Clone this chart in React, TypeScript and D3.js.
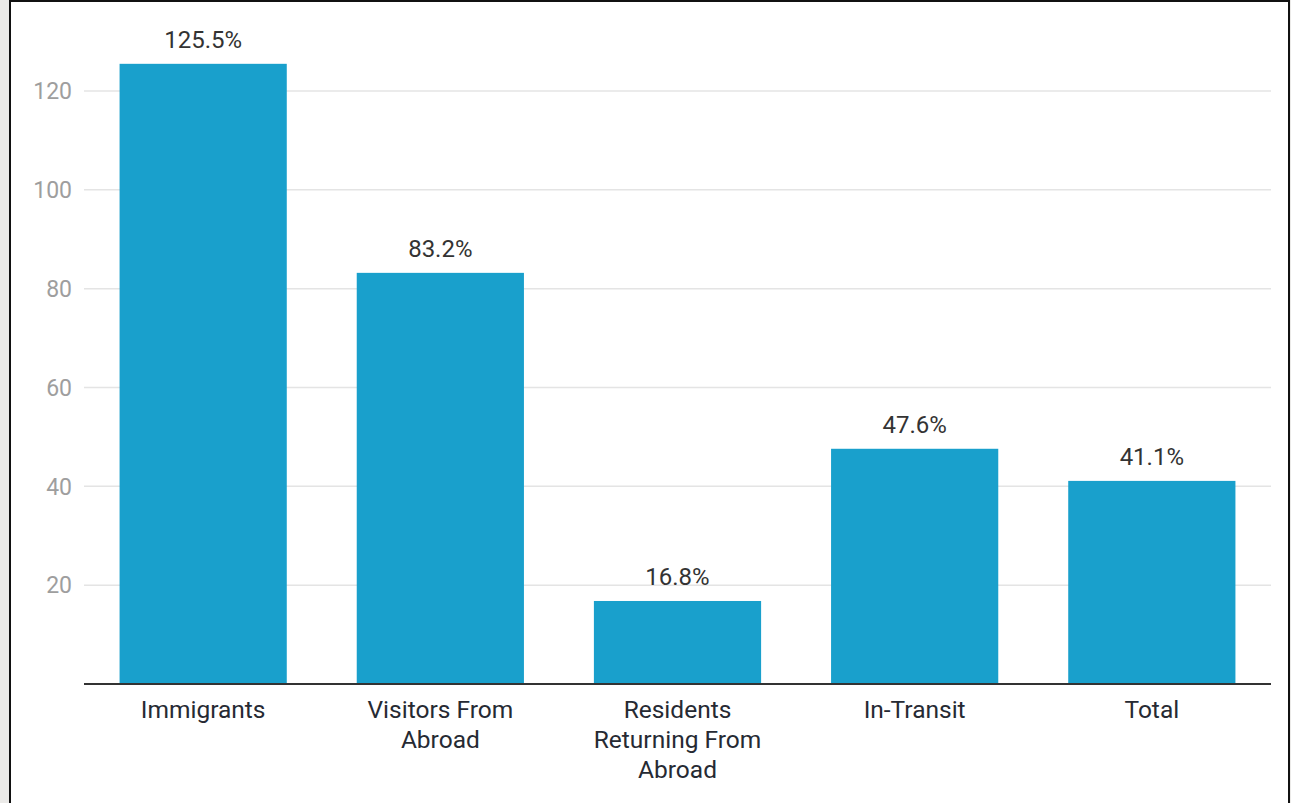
import * as d3 from "d3";
import React, { useEffect, useRef } from "react";

const categories: string[][] = [
    ["Immigrants"],
    ["Visitors From", "Abroad"],
    ["Residents", "Returning From", "Abroad"],
    ["In-Transit"],
    ["Total"],
];
const values: number[] = [125.5, 83.2, 16.8, 47.6, 41.1];
const valueLabels: string[] = ["125.5%", "83.2%", "16.8%", "47.6%", "41.1%"];
const yTicks: number[] = [20, 40, 60, 80, 100, 120];

const W = 1291;
const H = 803;

export default function App() {
    const svgRef = useRef<SVGSVGElement>(null);

    useEffect(() => {
        if (!svgRef.current) return;
        const svg = d3.select(svgRef.current);
        svg.selectAll("*").remove();

        const font = "Roboto, 'Noto Sans', sans-serif";
        const x0 = 84;
        const x1 = 1271;
        const yBase = 684;

        // frame
        svg.append("rect").attr("x", 0).attr("y", 0).attr("width", W).attr("height", H).attr("fill", "#ebeae8");
        svg.append("rect").attr("x", 10).attr("y", 1).attr("width", 1279).attr("height", H + 10)
            .attr("fill", "#fff").attr("stroke", "#111").attr("stroke-width", 2);

        const xScale = d3
            .scaleBand<number>()
            .domain(values.map((_, i) => i))
            .range([x0, x1])
            .paddingInner(0.295)
            .paddingOuter(0.15);

        const yScale = d3.scaleLinear().domain([0, 120]).range([yBase, 91]);

        const g = svg.append("g");

        g.selectAll("line.grid")
            .data(yTicks)
            .join("line")
            .attr("class", "grid")
            .attr("x1", x0)
            .attr("x2", x1)
            .attr("y1", (d) => yScale(d))
            .attr("y2", (d) => yScale(d))
            .attr("stroke", "#e4e4e4")
            .attr("stroke-width", 1.5);

        g.selectAll("text.tick")
            .data(yTicks)
            .join("text")
            .attr("class", "tick")
            .attr("x", 72)
            .attr("y", (d) => yScale(d))
            .attr("dy", "0.36em")
            .attr("text-anchor", "end")
            .attr("font-family", font)
            .attr("font-size", 23)
            .attr("fill", "#9e9e9e")
            .text((d) => d);

        g.selectAll("rect.bar")
            .data(values)
            .join("rect")
            .attr("class", "bar")
            .attr("x", (_, i) => xScale(i) as number)
            .attr("width", xScale.bandwidth())
            .attr("y", (d) => yScale(d))
            .attr("height", (d) => yBase - yScale(d))
            .attr("fill", "#19a0cc");

        g.selectAll("text.val")
            .data(values)
            .join("text")
            .attr("class", "val")
            .attr("x", (_, i) => (xScale(i) as number) + xScale.bandwidth() / 2)
            .attr("y", (d) => yScale(d) - 16)
            .attr("text-anchor", "middle")
            .attr("font-family", font)
            .attr("font-size", 24)
            .attr("fill", "#333")
            .text((_, i) => valueLabels[i]);

        g.append("line")
            .attr("x1", x0)
            .attr("x2", x1)
            .attr("y1", yBase)
            .attr("y2", yBase)
            .attr("stroke", "#333")
            .attr("stroke-width", 2);

        const labels = g.selectAll("text.cat")
            .data(categories)
            .join("text")
            .attr("class", "cat")
            .attr("text-anchor", "middle")
            .attr("font-family", font)
            .attr("font-size", 24.5)
            .attr("fill", "#262a33");

        labels.each(function (lines, i) {
            const cx = (xScale(i) as number) + xScale.bandwidth() / 2;
            d3.select(this)
                .selectAll("tspan")
                .data(lines)
                .join("tspan")
                .attr("x", cx)
                .attr("y", (_, j) => 718 + j * 30)
                .text((d) => d);
        });
    }, []);

    return (
        <svg
            ref={svgRef}
            width={W}
            height={H}
            style={{ position: "absolute", left: 0, top: 0, display: "block" }}
        />
    );
}
